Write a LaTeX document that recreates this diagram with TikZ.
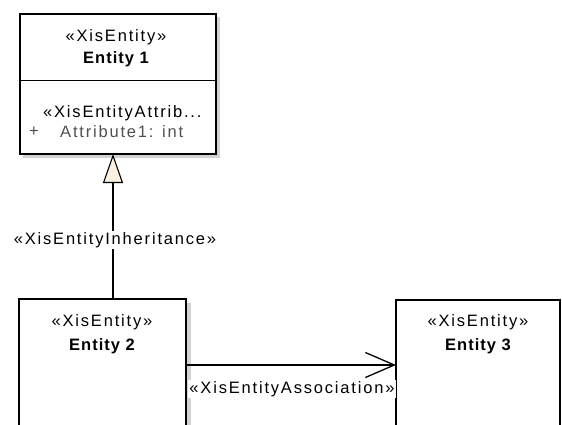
\documentclass[tikz,border=0pt]{standalone}
\usepackage{fontspec}
\setmainfont{Liberation Sans}[LetterSpace=11]
\newfontfamily\boldsp{Liberation Sans}[LetterSpace=6]
\usetikzlibrary{arrows.meta}
\definecolor{tri}{HTML}{FBF0E2}
\definecolor{shad}{HTML}{D4D4D4}
\definecolor{attr}{HTML}{505050}
\tikzset{
  box/.style={draw=black, line width=2pt, fill=white},
  shadowbox/.style={fill=shad, draw=none},
  conn/.style={line width=1.3pt},
  lbl/.style={font=\fontsize{16.5}{19}\selectfont, inner sep=1pt},
  ttl/.style={font=\fontsize{16.5}{19}\selectfont\boldsp\bfseries, inner sep=1pt},
  edgelbl/.style={font=\fontsize{16.5}{19}\selectfont, fill=white, inner sep=1pt},
  inh/.style={-{Triangle[open, length=29pt, width=20pt, fill=tri, line width=1.1pt]}},
  assoc/.style={-{Straight Barb[length=29pt, width=25pt, line width=1.3pt]}}
}
\begin{document}
\begin{tikzpicture}[x=1pt, y=-1pt]
\useasboundingbox (0,0) rectangle (562,425);
% shadows
\fill[shadowbox] (23,17) rectangle (220,158);
\fill[shadowbox] (23,303) rectangle (191,430);
% Entity 1
\node[box, minimum width=196pt, minimum height=140pt, anchor=north west, inner sep=0pt] (e1) at (19,13) {};
\draw[line width=1pt] (19,81) -- (215,81);
\node[lbl] (e1s) at (116,37) {«XisEntity»};
\node[ttl] (e1t) at (116,59) {Entity 1};
\node[lbl, anchor=west] (e1a) at (42,113) {«XisEntityAttrib...};
\node[lbl, anchor=west, text=attr] (e1p) at (28,132) {+};
\node[lbl, anchor=west, text=attr] (e1b) at (59,132) {Attribute1: int};
% Entity 2
\draw[box] (19,445) -- (19,299) -- (186,299) -- (186,445);
\coordinate (e2top) at (113,299);
\coordinate (e2right) at (186,365);
\node[lbl] (e2s) at (102,322) {«XisEntity»};
\node[ttl] (e2t) at (102,346) {Entity 2};
% Entity 3
\draw[box] (396,445) -- (396,300) -- (560,300) -- (560,445);
\coordinate (e3left) at (396,365);
\node[lbl] (e3s) at (478,322) {«XisEntity»};
\node[ttl] (e3t) at (478,346) {Entity 3};
% inheritance
\coordinate (e1bot) at (113,154);
\draw[conn, inh] (e2top) -- (e1bot);
\node[edgelbl] (inhl) at (115,240) {«XisEntityInheritance»};
% association
\draw[conn, assoc] (e2right) -- (e3left);
\node[edgelbl] (asl) at (292,389) {«XisEntityAssociation»};
\end{tikzpicture}
\end{document}
